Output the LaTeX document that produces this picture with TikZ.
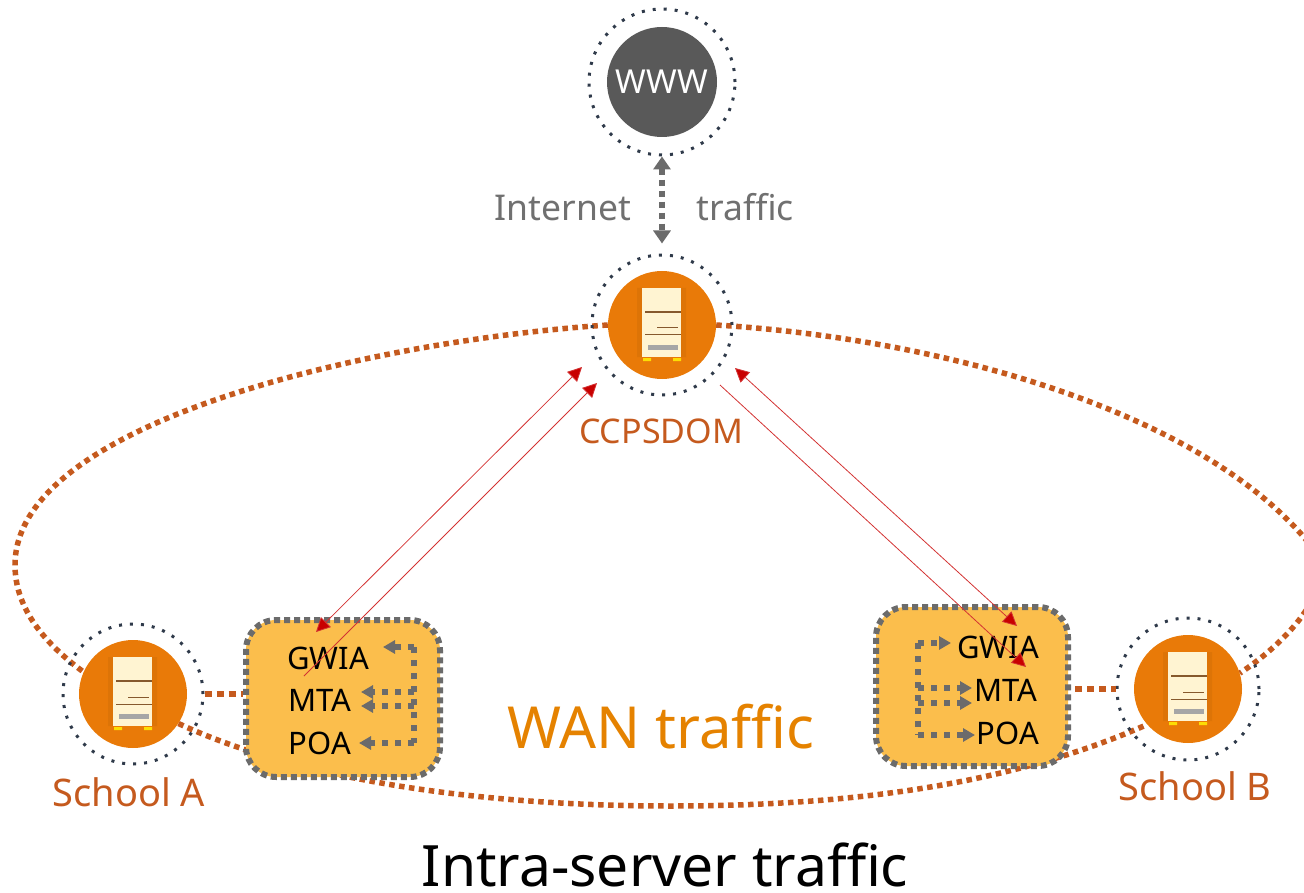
\documentclass[tikz,border=0pt]{standalone}
\usepackage{fontspec}
\setmainfont{Noto Sans}
\usetikzlibrary{arrows.meta}
\pgfdeclarelayer{bg}
\pgfsetlayers{bg,main}
\definecolor{rust}{HTML}{C55A1E}
\definecolor{srvorange}{HTML}{E97A08}
\definecolor{wanorange}{HTML}{E58200}
\definecolor{boxfill}{HTML}{FBBE4C}
\definecolor{dotgray}{HTML}{6B6B6B}
\definecolor{txtgray}{HTML}{707070}
\definecolor{ringdark}{HTML}{2F3A4A}
\definecolor{wwwgray}{HTML}{595959}
\definecolor{arrowred}{HTML}{C80000}
\definecolor{cream}{HTML}{FFF4D2}
\tikzset{
  disc/.style={circle,inner sep=0pt,minimum size=108pt,fill=srvorange,draw=none},
  wwwdisc/.style={circle,inner sep=0pt,minimum size=110pt,fill=wwwgray,draw=none,text=white,font=\fontsize{33}{33}\selectfont\bfseries},
  ringnode/.style={circle,inner sep=0pt,minimum size=#1,draw=ringdark,line width=3pt,dash pattern=on 3pt off 8pt},
  wanlink/.style={draw=rust,line width=5.5pt,dash pattern=on 5.5pt off 4.5pt},
  shortlink/.style={draw=rust,line width=6pt,dash pattern=on 7pt off 5pt},
  mailbox/.style={rectangle,rounded corners=30pt,fill=boxfill,draw=dotgray,line width=6pt,dash pattern=on 6pt off 4pt,inner sep=0pt},
  flow/.style={draw=dotgray,line width=6pt,dash pattern=on 6pt off 7pt,-{Triangle[length=12pt,width=13pt,fill=dotgray]}},
  flowline/.style={draw=dotgray,line width=6pt,dash pattern=on 6pt off 7pt},
  redarrow/.style={draw=arrowred!80!white,line width=.8pt,-{Triangle[length=14pt,width=14pt,fill=arrowred]}},
  redboth/.style={draw=arrowred!80!white,line width=.8pt,{Triangle[length=14pt,width=14pt,fill=arrowred]}-{Triangle[length=14pt,width=14pt,fill=arrowred]}},
  modlabel/.style={font=\fontsize{31}{31}\selectfont,text=black,inner sep=0pt},
  placelabel/.style={font=\fontsize{38}{38}\selectfont,text=rust,inner sep=0pt},
  netlabel/.style={font=\fontsize{35.5}{36}\selectfont,text=txtgray,inner sep=0pt},
  bigorange/.style={font=\fontsize{58}{58}\selectfont,text=wanorange,inner sep=0pt},
  bigblack/.style={font=\fontsize{57}{57}\selectfont,text=black,inner sep=0pt}
}
\newcommand{\srvicon}[2]{%
  \begin{scope}[shift={(#1,#2)}]
    \fill[srvorange!75!black,opacity=.2] (-25,-37) rectangle (-20,32) (19,-37) rectangle (24,32);
    \fill[cream] (-20,-37) rectangle (19,32);
    \draw[brown!70!black,line width=1.4pt] (-17,-13) -- (19,-13);
    \draw[brown!70!black,line width=1pt] (-5,3) -- (16,3);
    \draw[brown!70!black,line width=1pt] (-17,10) -- (19,10);
    \fill[gray!70] (-14,20) rectangle (16,25);
    \fill[yellow!80!orange] (-19,33) rectangle (-11,36) (11,33) rectangle (19,36);
  \end{scope}}
\begin{document}
\begin{tikzpicture}[x=1pt,y=-1pt]
\useasboundingbox (0,0) rectangle (1304,893);
% discs and rings
\node[wwwdisc] (www) at (662,82) {WWW};
\node[ringnode=146pt] (wwwring) at (662,82) {};
\node[disc] (ccps) at (662,325) {};
\node[ringnode=140pt] (ccpsring) at (662,325) {};
\node[disc] (schoola) at (133,694) {};
\node[ringnode=140pt] (schoolaring) at (133,694) {};
\node[disc] (schoolb) at (1188,689) {};
\node[ringnode=142pt] (schoolbring) at (1188,689) {};
\srvicon{662}{325}
\srvicon{133}{694}
\srvicon{1188}{689}
% boxes
\node[mailbox,minimum width=194pt,minimum height=157pt] (boxa) at (343,698.5) {};
\node[mailbox,minimum width=192pt,minimum height=159pt] (boxb) at (972,686.5) {};
% WAN ring
\begin{pgfonlayer}{bg}
\clip (0,0) rectangle (1304,893);
\draw[wanlink] (ccps.east) .. controls (960,340) and (1220,420) .. (1318,555) .. controls (1332,590) and (1290,640) .. (schoolb.17);
\draw[wanlink] (ccps.west) .. controls (380,340) and (15,420) .. (15,565) .. controls (15,605) and (40,640) .. (schoola.156);
\draw[wanlink] (schoola.-33) .. controls (300,780) and (480,806) .. (670,806) .. controls (850,806) and (1010,785) .. (schoolb.-139);
\end{pgfonlayer}
\draw[shortlink] (schoolaring.east) -- (boxa.west |- schoolaring.east);
\draw[shortlink] (boxb.east |- schoolbring.west) ++(4,0) -- (schoolbring.west);
% internet traffic
\draw[draw=dotgray,line width=6pt,dash pattern=on 6pt off 5pt,shorten >=10pt,{Triangle[length=13pt,width=17pt,fill=dotgray]}-{Triangle[length=13pt,width=17pt,fill=dotgray]}] (wwwring.south) -- (ccpsring.north);
% labels
\node[netlabel,anchor=base] (lbinternet) at (563,221) {Internet};
\node[netlabel,anchor=base] (lbtraffic) at (745,221) {traffic};
\node[placelabel,font=\fontsize{34}{34}\selectfont,anchor=base] (lbccps) at (661,443) {CCPSDOM};
\node[placelabel,anchor=base] (lbschoola) at (129,806) {School A};
\node[placelabel,anchor=base] (lbschoolb) at (1195,800) {School B};
\node[bigorange,anchor=base] (lbwan) at (661,748) {WAN traffic};
\node[bigblack,anchor=base] (lbintra) at (665,886) {Intra-server traffic};
% box A modules
\node[modlabel,anchor=base] (agwia) at (328,669) {GWIA};
\node[modlabel,anchor=base] (amta) at (320,711) {MTA};
\node[modlabel,anchor=base] (apoa) at (320,754) {POA};
\coordinate (atop) at (414,647);
\coordinate (abot) at (414,743);
\draw[flowline] (atop) -- (abot);
\draw[flow] (atop) -- (383,647);
\draw[flow] (414,692) -- (361,692);
\draw[flow] (414,706) -- (361,706);
\draw[flow] (abot) -- (359,743);
% box B modules
\node[modlabel,anchor=base] (bgwia) at (998,658) {GWIA};
\node[modlabel,anchor=base] (bmta) at (1006,701) {MTA};
\node[modlabel,anchor=base] (bpoa) at (1008,744) {POA};
\coordinate (btop) at (918,643);
\coordinate (bbot) at (918,735);
\draw[flowline] (btop) -- (bbot);
\draw[flow] (btop) -- (951,643);
\draw[flow] (918,688) -- (972,688);
\draw[flow] (918,703) -- (972,703);
\draw[flow] (bbot) -- (975,735);
% red arrows
\coordinate (r1a) at (582,367);
\coordinate (r1b) at (316,632);
\coordinate (r2a) at (304,676);
\coordinate (r2b) at (597,383);
\coordinate (r3a) at (735,368);
\coordinate (r3b) at (1017,626);
\coordinate (r4a) at (720,385);
\coordinate (r4b) at (1026,667);
\draw[redboth] (r1a) -- (r1b);
\draw[redarrow] (r2a) -- (r2b);
\draw[redboth] (r3a) -- (r3b);
\draw[redarrow] (r4a) -- (r4b);
\end{tikzpicture}
\end{document}
